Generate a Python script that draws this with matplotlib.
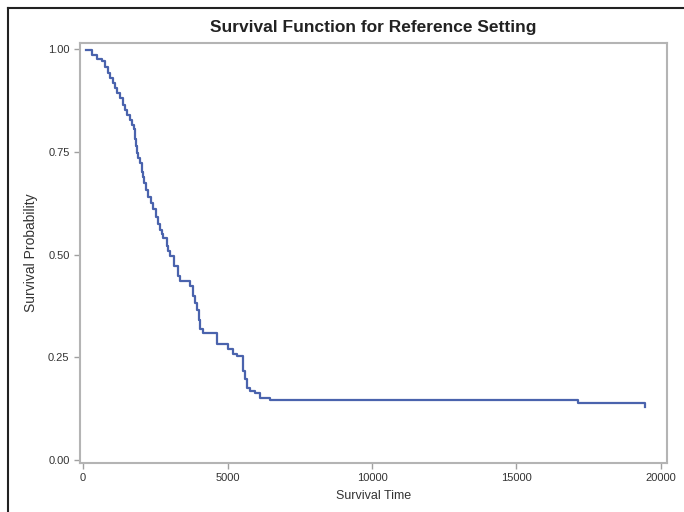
import matplotlib.pyplot as plt
from matplotlib.lines import Line2D

# survival curve (time, probability)
times = [120, 300, 470, 650, 760, 870, 935, 1030, 1100, 1180, 1280, 1370, 1450,
         1520, 1620, 1685, 1760, 1800, 1840, 1870, 1920, 1970, 2030, 2070, 2110,
         2180, 2250, 2340, 2430, 2530, 2600, 2660, 2720, 2780, 2890, 2950, 3010,
         3160, 3300, 3360, 3700, 3790, 3875, 3960, 4030, 4060, 4160, 4620, 5030,
         5200, 5320, 5520, 5600, 5690, 5780, 5950, 6120, 6470, 17140, 19450]
surv = [0.997, 0.985, 0.975, 0.970, 0.957, 0.942, 0.930, 0.917, 0.905, 0.893,
        0.880, 0.864, 0.852, 0.840, 0.828, 0.815, 0.806, 0.780, 0.765, 0.748,
        0.735, 0.723, 0.700, 0.688, 0.675, 0.658, 0.641, 0.626, 0.612, 0.592,
        0.575, 0.560, 0.550, 0.540, 0.520, 0.508, 0.496, 0.472, 0.447, 0.435,
        0.423, 0.400, 0.383, 0.366, 0.342, 0.318, 0.310, 0.282, 0.270, 0.257,
        0.253, 0.217, 0.197, 0.176, 0.168, 0.164, 0.152, 0.146, 0.138, 0.128]

xticks = [0, 5000, 10000, 15000, 20000]
yticks = [0.00, 0.25, 0.50, 0.75, 1.00]

plt.rcParams['font.family'] = ['Liberation Sans', 'DejaVu Sans']

fig = plt.figure(figsize=(6.84, 5.12), dpi=100)
ax = fig.add_axes([80/684, 1-463/512, 587/684, 420/512])

ax.step(times, surv, where='post', color='#4a63ad', lw=1.6)

ax.set_xlim(-104, 20208)
ax.set_ylim(-0.007, 1.0146)
ax.set_xticks(xticks)
ax.set_xticklabels([str(v) for v in xticks])
ax.set_yticks(yticks)
ax.set_yticklabels(['%.2f' % v for v in yticks])
ax.tick_params(colors='#a0a0a0', labelcolor='#333333', labelsize=8, length=4, width=1)

for sp in ax.spines.values():
    sp.set_color('#b4b4b4')
    sp.set_linewidth(1.5)

ax.set_title('Survival Function for Reference Setting', fontsize=12.5,
             fontweight='bold', color='#222222', pad=8)
ax.set_xlabel('Survival Time', fontsize=9, color='#333333', labelpad=5)
ax.set_ylabel('Survival Probability', fontsize=10, color='#333333', labelpad=7)

# dark frame on left and top edges of the picture
fig.add_artist(Line2D([8/684, 8/684], [0, 1-8/512], transform=fig.transFigure,
                      color='#222222', lw=1.5))
fig.add_artist(Line2D([8/684, 1], [1-8/512, 1-8/512], transform=fig.transFigure,
                      color='#222222', lw=1.5))

fig.savefig('out.png', dpi=100)
